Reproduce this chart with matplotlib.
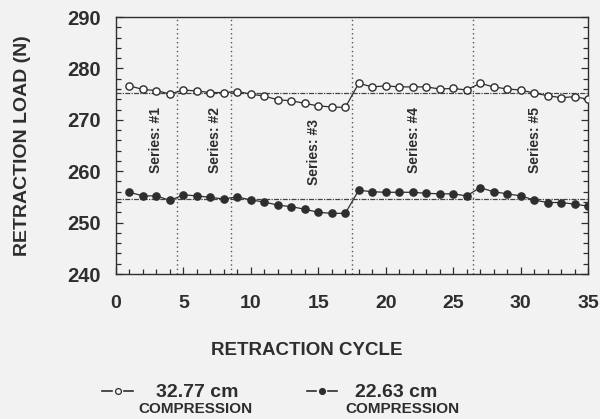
import matplotlib
matplotlib.use("Agg")
import matplotlib.pyplot as plt
from matplotlib.lines import Line2D
from matplotlib.ticker import MultipleLocator

plt.rcParams['font.family'] = ['Liberation Sans', 'DejaVu Sans']

cycles = list(range(1, 36))
load_32_77 = [276.6, 275.9, 275.7, 275.0, 275.8, 275.6, 275.3, 275.3, 275.5, 275.0,
              274.6, 273.9, 273.7, 273.2, 272.7, 272.5, 272.4, 277.1, 276.4, 276.6,
              276.4, 276.4, 276.4, 276.0, 276.1, 275.8, 277.1, 276.4, 276.0, 275.8,
              275.2, 274.7, 274.3, 274.5, 274.0]
load_22_63 = [255.9, 255.2, 255.2, 254.3, 255.4, 255.2, 254.9, 254.6, 255.0, 254.4,
              254.0, 253.4, 253.1, 252.6, 252.0, 251.8, 251.8, 256.3, 256.0, 255.9,
              255.9, 255.9, 255.7, 255.6, 255.6, 255.2, 256.8, 256.0, 255.6, 255.2,
              254.4, 253.9, 253.9, 253.6, 253.2]
mean_32_77 = 275.2
mean_22_63 = 254.6
series_bounds = [4.5, 8.5, 17.5, 26.5]
series_labels = ["Series: #1", "Series: #2", "Series: #3", "Series: #4", "Series: #5"]
series_label_x = [3.0, 7.35, 14.7, 22.1, 31.1]
series_label_y = [266.1, 266.1, 263.7, 266.1, 266.0]
x_ticks = [0, 5, 10, 15, 20, 25, 30, 35]
y_ticks = [240, 250, 260, 270, 280, 290]

bg = '#f2f2f2'
ink = '#2e2e2e'

fig = plt.figure(figsize=(6.0, 4.19), dpi=100, facecolor=bg)
ax = fig.add_axes([116/600, 1-274/419, (588-116)/600, (274-17)/419])
ax.set_facecolor(bg)

ax.set_xlim(0, 35)
ax.set_ylim(240, 290)

for b in series_bounds:
    ax.axvline(b, color='#555555', lw=1.0, linestyle=(0, (1, 2.2)), zorder=1)

ax.axhline(mean_32_77, color='#444444', lw=0.9, linestyle=(0, (4, 1, 1, 1)), zorder=1)
ax.axhline(mean_22_63, color='#444444', lw=0.9, linestyle=(0, (4, 1, 1, 1)), zorder=1)

ax.plot(cycles, load_32_77, color=ink, lw=0.9, marker='o', markersize=5.2,
        markerfacecolor='white', markeredgecolor=ink, markeredgewidth=1.0, zorder=3)
ax.plot(cycles, load_22_63, color=ink, lw=0.9, marker='o', markersize=5.2,
        markerfacecolor=ink, markeredgecolor=ink, zorder=3)

for lx, ly, t in zip(series_label_x, series_label_y, series_labels):
    ax.text(lx, ly, t, rotation=90, ha='center', va='center', fontsize=10,
            fontweight='bold', color=ink)

ax.set_xticks(x_ticks)
ax.set_yticks(y_ticks)
ax.xaxis.set_minor_locator(MultipleLocator(1))
ax.yaxis.set_minor_locator(MultipleLocator(2))
ax.tick_params(axis='both', which='both', direction='in', color=ink, width=0.9)
ax.tick_params(axis='both', which='major', length=5)
ax.tick_params(axis='both', which='minor', length=3.5)
ax.tick_params(axis='y', which='both', left=True, right=True)
ax.tick_params(axis='x', which='major', pad=15, labelsize=14)
ax.tick_params(axis='y', which='major', pad=11, labelsize=14.5)
for lab in ax.get_xticklabels() + ax.get_yticklabels():
    lab.set_fontweight('bold')
    lab.set_color(ink)
for s in ax.spines.values():
    s.set_color(ink)
    s.set_linewidth(1.0)

fig.text(23/600, 1-146/419, "RETRACTION LOAD (N)", rotation=90, ha='center', va='center',
         fontsize=14, fontweight='bold', color=ink)
fig.text(307/600, 1-350/419, "RETRACTION CYCLE", ha='center', va='center',
         fontsize=13.5, fontweight='bold', color=ink)

# legend
def legend_entry(x0, x1, y, filled):
    xm = (x0 + x1) / 2
    gap = 6
    fig.add_artist(Line2D([x0/600, (xm-gap)/600], [1-y/419, 1-y/419], transform=fig.transFigure,
                          color=ink, lw=1.2))
    fig.add_artist(Line2D([(xm+gap)/600, x1/600], [1-y/419, 1-y/419], transform=fig.transFigure,
                          color=ink, lw=1.2))
    fig.add_artist(Line2D([xm/600], [1-y/419], transform=fig.transFigure, marker='o',
                          markersize=4.2, markerfacecolor=ink if filled else bg,
                          markeredgecolor=ink, markeredgewidth=0.9, linestyle='none'))

legend_entry(102, 133, 391, False)
fig.text(197/600, 1-392.5/419, "32.77 cm", ha='center', va='center', fontsize=14,
         fontweight='bold', color=ink)
fig.text(195.5/600, 1-409/419, "COMPRESSION", ha='center', va='center', fontsize=11,
         fontweight='bold', color=ink)

legend_entry(307, 337, 391, True)
fig.text(396/600, 1-392.5/419, "22.63 cm", ha='center', va='center', fontsize=14,
         fontweight='bold', color=ink)
fig.text(402.5/600, 1-409/419, "COMPRESSION", ha='center', va='center', fontsize=11,
         fontweight='bold', color=ink)

fig.savefig("out.png", dpi=100, facecolor=bg)
